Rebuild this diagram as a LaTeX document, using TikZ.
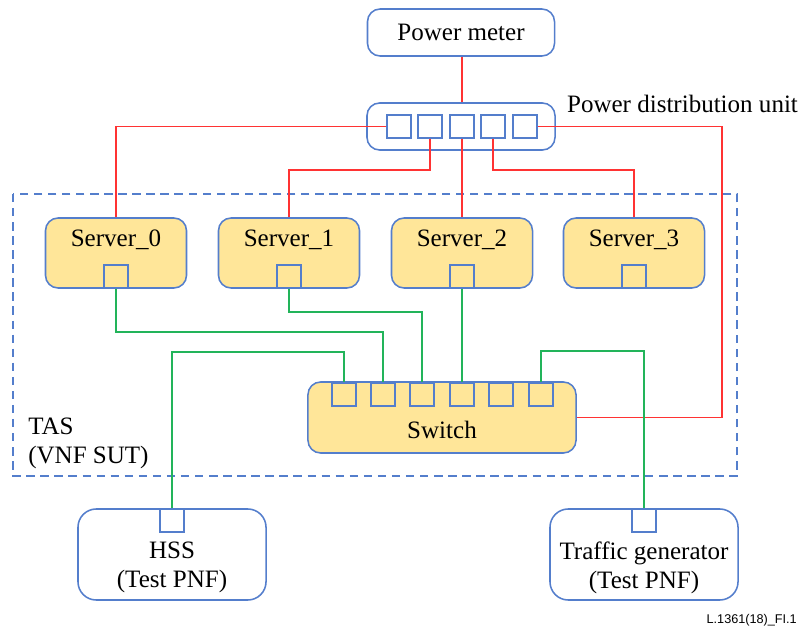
\documentclass[tikz,border=0pt]{standalone}
\usepackage{fontspec}
\setmainfont{Liberation Serif}
\newfontfamily\figfont{Liberation Sans}
\usetikzlibrary{positioning}
\definecolor{edgeblue}{RGB}{84,126,204}
\definecolor{unitfill}{RGB}{255,230,153}
\definecolor{pwrred}{RGB}{255,51,51}
\definecolor{langreen}{RGB}{34,180,90}
\begin{document}
\begin{tikzpicture}[x=0.025cm, y=-0.025cm,
  font=\fontsize{17.8}{20.5}\selectfont,
  unit/.style={draw=edgeblue, line width=1.1pt, rounded corners=9pt, inner sep=0pt},
  srv/.style={unit, fill=unitfill, minimum width=3.525cm, minimum height=1.75cm},
  tester/.style={unit, rounded corners=13pt, minimum width=4.7cm, minimum height=2.275cm},
  port/.style={draw=edgeblue, line width=1.1pt, minimum width=0.6cm, minimum height=0.575cm, inner sep=0pt},
  pwr/.style={draw=pwrred, line width=1.2pt},
  lan/.style={draw=langreen, line width=1.2pt}]
\useasboundingbox (0,0) rectangle (802,630);

\draw [edgeblue, line width=1.1pt, dash pattern=on 6pt off 4pt] (13,194) rectangle (737,476);
\node [anchor=north west, align=left, inner sep=0pt] (tas) at (28,418) {TAS\\(VNF SUT)};

\node [unit, minimum width=4.675cm, minimum height=1.175cm] (meter) at (461,32.5) {Power meter};
\node [unit, minimum width=4.7cm, minimum height=1.175cm] (pdu) at (461,126.5) {};
\node [inner sep=0pt, right=0.275cm of pdu.north east, yshift=-0.05cm] (pdutext) {Power distribution unit};
\foreach \i/\x in {1/399,2/430,3/462,4/493,5/525}
  \node [port] (pdu\i) at (\x,126.5) {};

\foreach \i/\x in {0/116,1/289,2/462,3/634} {
  \node [srv, label={[yshift=0.33cm]center:Server\_\i}] (s\i) at (\x,253) {};
  \node [port, anchor=south] (sp\i) at (s\i.south) {};
}

\node [unit, fill=unitfill, minimum width=6.7cm, minimum height=1.775cm,
  label={[yshift=-0.3cm]center:Switch}] (sw) at (442,417.5) {};
\foreach \i/\x in {1/344,2/383,3/422,4/462,5/501,6/541}
  \node [port, anchor=north] (swp\i) at (\x,382) {};

\node [tester, label={[align=center, yshift=-0.33cm]center:HSS\\(Test PNF)}] (hss) at (172,554.5) {};
\node [port, anchor=north] (hssp) at (hss.north) {};
\node [tester, label={[align=center, yshift=-0.33cm]center:Traffic generator\\(Test PNF)}] (tg) at (644,554.5) {};
\node [port, anchor=north] (tgp) at (tg.north) {};

\node [anchor=south east, inner sep=0pt, font=\figfont\fontsize{9}{10}\selectfont] (figid) at (797,626) {L.1361(18)\_FI.1};

% power
\coordinate (pwrbus) at (0,170);
\coordinate (pwrside) at (722,0);
\draw [pwr] (meter.south -| pdu3) -- (pdu.north -| pdu3);
\draw [pwr] (pdu1.west) -| (s0.north);
\draw [pwr] (pdu2.south) -- (pdu2 |- pwrbus) -| (s1.north);
\draw [pwr] (pdu3.south) -- (pdu3.south |- s2.north);
\draw [pwr] (pdu4.south) -- (pdu4 |- pwrbus) -| (s3.north);
\draw [pwr] (pdu5.east) -| (pwrside |- sw.east) -- (sw.east);

% network
\coordinate (lan0) at (0,332);
\coordinate (lan1) at (0,312);
\coordinate (lanh) at (0,352);
\coordinate (lant) at (0,351);
\draw [lan] (sp0.south) -- (sp0.south |- lan0) -| (swp2.north);
\draw [lan] (sp1.south) -- (sp1.south |- lan1) -| (swp3.north);
\draw [lan] (sp2.south) -- (sp2.south |- swp4.north);
\draw [lan] (hssp.north) -- (hssp.north |- lanh) -| (swp1.north);
\draw [lan] (tgp.north) -- (tgp.north |- lant) -| (swp6.north);
\end{tikzpicture}
\end{document}
